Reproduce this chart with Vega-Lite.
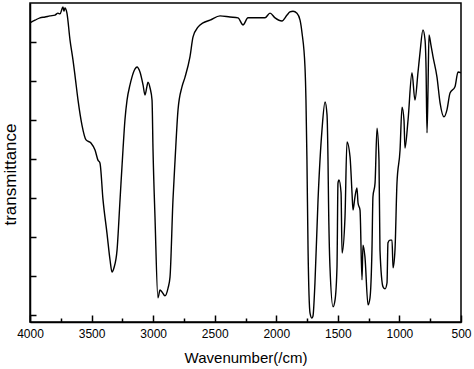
{
  "$schema": "https://vega.github.io/schema/vega-lite/v6.json",
  "width": 431,
  "height": 319,
  "autosize": "none",
  "padding": {"left": 30, "top": 3, "right": 13, "bottom": 47},
  "background": "white",
  "config": {
    "view": {"stroke": "black", "strokeWidth": 1.5},
    "font": "Liberation Sans"
  },
  "data": {
    "values": [
      {"wavenumber": 4000, "transmittance": 74.9},
      {"wavenumber": 3959, "transmittance": 75.6},
      {"wavenumber": 3919, "transmittance": 76.2},
      {"wavenumber": 3878, "transmittance": 76.4},
      {"wavenumber": 3838, "transmittance": 76.7},
      {"wavenumber": 3797, "transmittance": 76.9},
      {"wavenumber": 3773, "transmittance": 77.4},
      {"wavenumber": 3756, "transmittance": 77.2},
      {"wavenumber": 3740, "transmittance": 78.5},
      {"wavenumber": 3732, "transmittance": 79.0},
      {"wavenumber": 3724, "transmittance": 77.9},
      {"wavenumber": 3716, "transmittance": 78.7},
      {"wavenumber": 3700, "transmittance": 77.4},
      {"wavenumber": 3675, "transmittance": 70.5},
      {"wavenumber": 3651, "transmittance": 65.4},
      {"wavenumber": 3635, "transmittance": 61.5},
      {"wavenumber": 3610, "transmittance": 55.1},
      {"wavenumber": 3578, "transmittance": 48.7},
      {"wavenumber": 3545, "transmittance": 44.9},
      {"wavenumber": 3505, "transmittance": 44.1},
      {"wavenumber": 3472, "transmittance": 42.3},
      {"wavenumber": 3448, "transmittance": 39.7},
      {"wavenumber": 3432, "transmittance": 39.0},
      {"wavenumber": 3407, "transmittance": 29.5},
      {"wavenumber": 3375, "transmittance": 21.0},
      {"wavenumber": 3350, "transmittance": 14.1},
      {"wavenumber": 3334, "transmittance": 11.0},
      {"wavenumber": 3318, "transmittance": 12.1},
      {"wavenumber": 3293, "transmittance": 16.7},
      {"wavenumber": 3269, "transmittance": 29.5},
      {"wavenumber": 3245, "transmittance": 42.3},
      {"wavenumber": 3229, "transmittance": 50.0},
      {"wavenumber": 3212, "transmittance": 55.1},
      {"wavenumber": 3188, "transmittance": 59.0},
      {"wavenumber": 3172, "transmittance": 61.0},
      {"wavenumber": 3147, "transmittance": 63.1},
      {"wavenumber": 3131, "transmittance": 63.6},
      {"wavenumber": 3107, "transmittance": 62.3},
      {"wavenumber": 3082, "transmittance": 59.0},
      {"wavenumber": 3066, "transmittance": 56.4},
      {"wavenumber": 3050, "transmittance": 58.7},
      {"wavenumber": 3042, "transmittance": 59.7},
      {"wavenumber": 3025, "transmittance": 58.2},
      {"wavenumber": 3009, "transmittance": 55.1},
      {"wavenumber": 3001, "transmittance": 42.3},
      {"wavenumber": 2985, "transmittance": 25.1},
      {"wavenumber": 2961, "transmittance": 4.4},
      {"wavenumber": 2944, "transmittance": 6.4},
      {"wavenumber": 2928, "transmittance": 5.9},
      {"wavenumber": 2904, "transmittance": 4.9},
      {"wavenumber": 2879, "transmittance": 6.9},
      {"wavenumber": 2863, "transmittance": 9.7},
      {"wavenumber": 2839, "transmittance": 29.5},
      {"wavenumber": 2822, "transmittance": 39.7},
      {"wavenumber": 2798, "transmittance": 52.6},
      {"wavenumber": 2766, "transmittance": 58.5},
      {"wavenumber": 2741, "transmittance": 61.0},
      {"wavenumber": 2701, "transmittance": 66.2},
      {"wavenumber": 2676, "transmittance": 71.3},
      {"wavenumber": 2636, "transmittance": 73.8},
      {"wavenumber": 2595, "transmittance": 74.9},
      {"wavenumber": 2538, "transmittance": 75.6},
      {"wavenumber": 2457, "transmittance": 76.7},
      {"wavenumber": 2376, "transmittance": 76.4},
      {"wavenumber": 2311, "transmittance": 76.2},
      {"wavenumber": 2270, "transmittance": 74.4},
      {"wavenumber": 2230, "transmittance": 76.2},
      {"wavenumber": 2157, "transmittance": 76.2},
      {"wavenumber": 2092, "transmittance": 76.2},
      {"wavenumber": 2051, "transmittance": 77.4},
      {"wavenumber": 2010, "transmittance": 76.2},
      {"wavenumber": 1954, "transmittance": 75.4},
      {"wavenumber": 1913, "transmittance": 76.9},
      {"wavenumber": 1889, "transmittance": 77.7},
      {"wavenumber": 1864, "transmittance": 77.9},
      {"wavenumber": 1832, "transmittance": 77.4},
      {"wavenumber": 1807, "transmittance": 75.6},
      {"wavenumber": 1791, "transmittance": 72.3},
      {"wavenumber": 1767, "transmittance": 63.6},
      {"wavenumber": 1759, "transmittance": 55.1},
      {"wavenumber": 1751, "transmittance": 39.7},
      {"wavenumber": 1742, "transmittance": 16.7},
      {"wavenumber": 1726, "transmittance": 0.5},
      {"wavenumber": 1710, "transmittance": -0.8},
      {"wavenumber": 1702, "transmittance": -0.3},
      {"wavenumber": 1686, "transmittance": 8.2},
      {"wavenumber": 1661, "transmittance": 29.5},
      {"wavenumber": 1629, "transmittance": 47.4},
      {"wavenumber": 1604, "transmittance": 54.6},
      {"wavenumber": 1588, "transmittance": 51.3},
      {"wavenumber": 1580, "transmittance": 39.7},
      {"wavenumber": 1576, "transmittance": 29.5},
      {"wavenumber": 1564, "transmittance": 12.3},
      {"wavenumber": 1539, "transmittance": 2.1},
      {"wavenumber": 1523, "transmittance": 3.8},
      {"wavenumber": 1507, "transmittance": 12.3},
      {"wavenumber": 1499, "transmittance": 33.8},
      {"wavenumber": 1491, "transmittance": 34.6},
      {"wavenumber": 1474, "transmittance": 31.3},
      {"wavenumber": 1466, "transmittance": 15.9},
      {"wavenumber": 1442, "transmittance": 25.1},
      {"wavenumber": 1426, "transmittance": 44.4},
      {"wavenumber": 1401, "transmittance": 40.5},
      {"wavenumber": 1385, "transmittance": 31.3},
      {"wavenumber": 1377, "transmittance": 26.9},
      {"wavenumber": 1361, "transmittance": 30.3},
      {"wavenumber": 1345, "transmittance": 32.6},
      {"wavenumber": 1336, "transmittance": 28.7},
      {"wavenumber": 1320, "transmittance": 26.9},
      {"wavenumber": 1304, "transmittance": 9.0},
      {"wavenumber": 1296, "transmittance": 17.9},
      {"wavenumber": 1280, "transmittance": 14.9},
      {"wavenumber": 1255, "transmittance": 2.6},
      {"wavenumber": 1239, "transmittance": 4.4},
      {"wavenumber": 1223, "transmittance": 16.7},
      {"wavenumber": 1215, "transmittance": 30.3},
      {"wavenumber": 1198, "transmittance": 33.8},
      {"wavenumber": 1182, "transmittance": 47.9},
      {"wavenumber": 1166, "transmittance": 39.7},
      {"wavenumber": 1158, "transmittance": 16.7},
      {"wavenumber": 1133, "transmittance": 7.2},
      {"wavenumber": 1117, "transmittance": 6.7},
      {"wavenumber": 1101, "transmittance": 8.2},
      {"wavenumber": 1093, "transmittance": 18.5},
      {"wavenumber": 1077, "transmittance": 19.2},
      {"wavenumber": 1060, "transmittance": 19.2},
      {"wavenumber": 1052, "transmittance": 12.1},
      {"wavenumber": 1036, "transmittance": 16.7},
      {"wavenumber": 1020, "transmittance": 33.8},
      {"wavenumber": 995, "transmittance": 42.3},
      {"wavenumber": 979, "transmittance": 53.3},
      {"wavenumber": 963, "transmittance": 50.0},
      {"wavenumber": 955, "transmittance": 42.8},
      {"wavenumber": 930, "transmittance": 50.0},
      {"wavenumber": 898, "transmittance": 62.1},
      {"wavenumber": 874, "transmittance": 55.1},
      {"wavenumber": 849, "transmittance": 62.3},
      {"wavenumber": 833, "transmittance": 67.2},
      {"wavenumber": 809, "transmittance": 73.1},
      {"wavenumber": 792, "transmittance": 70.5},
      {"wavenumber": 784, "transmittance": 63.6},
      {"wavenumber": 776, "transmittance": 46.7},
      {"wavenumber": 768, "transmittance": 57.7},
      {"wavenumber": 760, "transmittance": 71.8},
      {"wavenumber": 744, "transmittance": 69.2},
      {"wavenumber": 727, "transmittance": 66.2},
      {"wavenumber": 695, "transmittance": 61.0},
      {"wavenumber": 670, "transmittance": 54.4},
      {"wavenumber": 638, "transmittance": 50.8},
      {"wavenumber": 614, "transmittance": 52.6},
      {"wavenumber": 589, "transmittance": 56.9},
      {"wavenumber": 549, "transmittance": 58.5},
      {"wavenumber": 524, "transmittance": 62.3},
      {"wavenumber": 500, "transmittance": 62.1}
    ]
  },
  "mark": {"type": "line", "color": "black", "strokeWidth": 1.4, "interpolate": "monotone", "clip": true},
  "encoding": {
    "x": {
      "field": "wavenumber",
      "type": "quantitative",
      "scale": {"domain": [500, 4000], "reverse": true, "nice": false, "zero": false},
      "axis": {
        "title": "Wavenumber(/cm)",
        "values": [4000, 3750, 3500, 3250, 3000, 2750, 2500, 2250, 2000, 1750, 1500, 1250, 1000, 750, 500],
        "format": "d",
        "tickSize": {"condition": {"test": "datum.value % 500 === 0", "value": -7}, "value": -4},
        "labelExpr": "datum.value % 500 === 0 ? datum.label : ''",
        "labelPadding": 13,
        "labelFontSize": 12,
        "labelColor": "black",
        "labelFlush": false,
        "labelOverlap": false,
        "tickColor": "black",
        "tickWidth": 1.5,
        "domainColor": "black",
        "domainWidth": 1.5,
        "grid": false,
        "titleFontSize": 15,
        "titleFontWeight": "normal",
        "titleColor": "black",
        "titleY": 40.5,
        "titleBaseline": "alphabetic"
      }
    },
    "y": {
      "field": "transmittance",
      "type": "quantitative",
      "scale": {"domain": [-1.8, 80], "nice": false, "zero": false},
      "axis": {
        "title": "transmittance",
        "values": [0, 10, 20, 30, 40, 50, 60, 70],
        "labels": false,
        "tickSize": -6,
        "tickWidth": 1.5,
        "tickColor": "black",
        "domainColor": "black",
        "domainWidth": 1.5,
        "grid": false,
        "titleFontSize": 17,
        "titleFontWeight": "normal",
        "titleColor": "black",
        "titleAngle": -90,
        "titleX": -15,
        "titleY": 171,
        "titleBaseline": "alphabetic",
        "titleAlign": "center"
      }
    }
  }
}
